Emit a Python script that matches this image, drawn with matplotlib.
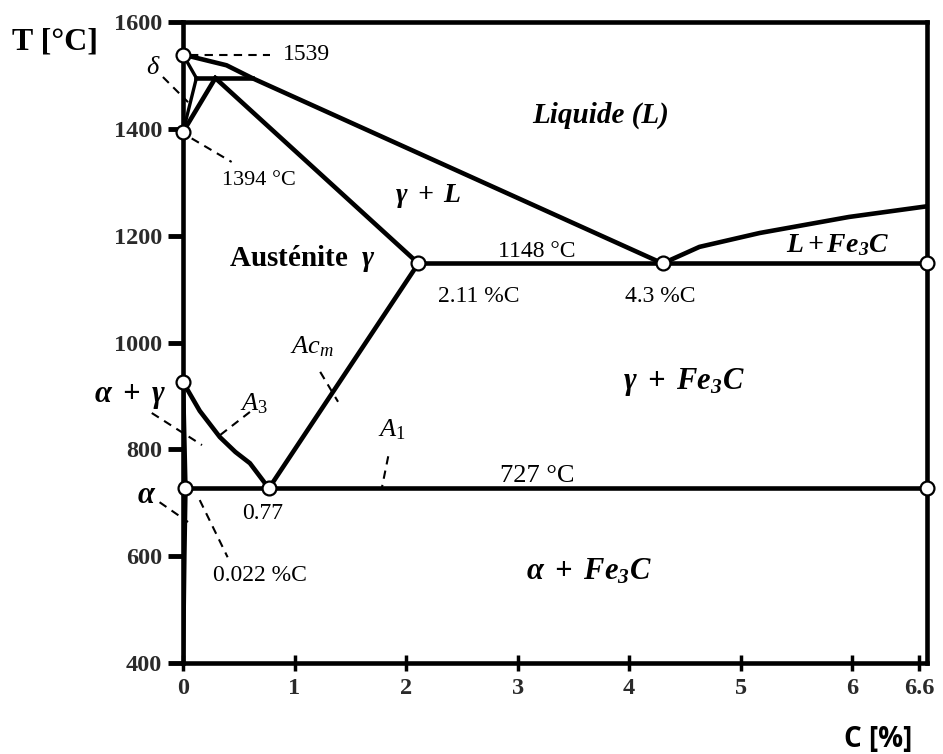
import matplotlib
matplotlib.use("Agg")
import matplotlib.pyplot as plt

plt.rcParams['font.family'] = ['Liberation Serif', 'DejaVu Serif']
plt.rcParams['mathtext.fontset'] = 'custom'
plt.rcParams['mathtext.rm'] = 'Liberation Serif'
plt.rcParams['mathtext.it'] = 'Liberation Serif:italic'
plt.rcParams['mathtext.bf'] = 'Liberation Serif:bold'
plt.rcParams['mathtext.bfit'] = 'Liberation Serif:italic:bold'

# points caractéristiques du diagramme Fe-Fe3C (C en %, T en °C)
melt_T = 1539      # A
N_T = 1394         # N
G_T = 926          # G
peri_T = 1495      # palier péritectique
H_x, J_x, B_x = 0.12, 0.29, 0.62
eut_T = 1148       # palier eutectique
E_x, C_x = 2.11, 4.3
eutd_T = 727       # palier eutectoïde
P_x, S_x = 0.022, 0.77
cem_x = 6.67

liq_x = [0, 0.39, B_x, C_x]
liq_T = [melt_T, 1519, peri_T, eut_T]
liq2_x = [C_x, 4.63, 5.17, 5.97, cem_x]
liq2_T = [eut_T, 1179, 1205, 1235, 1255]
a3_x = [0, 0.15, 0.33, 0.47, 0.60, S_x]
a3_T = [G_T, 872, 823, 795, 774, eutd_T]
solvus_x = [P_x, 0.012, 0]
solvus_T = [eutd_T, 600, 400]

x_ticks = [0, 1, 2, 3, 4, 5, 6, 6.6]
x_labels = ['0', '1', '2', '3', '4', '5', '6', '6.6']
y_ticks = [400, 600, 800, 1000, 1200, 1400, 1600]

fig = plt.figure(figsize=(9.43, 7.54), dpi=100)
ax = fig.add_axes([183 / 943, 91 / 754, 744 / 943, 641 / 754])

lw = 3.3
k = 'black'
ax.plot(liq_x, liq_T, color=k, lw=lw, solid_capstyle='round')
ax.plot(liq2_x, liq2_T, color=k, lw=lw, solid_capstyle='round')
ax.plot([0, H_x], [melt_T, peri_T], color=k, lw=2.4)
ax.plot([H_x, B_x], [peri_T, peri_T], color=k, lw=lw)
ax.plot([H_x, 0], [peri_T, N_T], color=k, lw=2.4)
ax.plot([J_x, 0], [peri_T, N_T], color=k, lw=lw)
ax.plot([J_x, E_x], [peri_T, eut_T], color=k, lw=lw)
ax.plot([E_x, cem_x], [eut_T, eut_T], color=k, lw=lw)
ax.plot(a3_x, a3_T, color=k, lw=lw, solid_joinstyle='round')
ax.plot([S_x, E_x], [eutd_T, eut_T], color=k, lw=lw)
ax.plot([0, P_x], [G_T, eutd_T], color=k, lw=lw)
ax.plot(solvus_x, solvus_T, color=k, lw=lw)
ax.plot([P_x, cem_x], [eutd_T, eutd_T], color=k, lw=lw)

# points remarquables
pts_x = [0, 0, 0, P_x, S_x, E_x, C_x, cem_x, cem_x]
pts_T = [melt_T, N_T, G_T, eutd_T, eutd_T, eut_T, eut_T, eut_T, eutd_T]
ax.plot(pts_x, pts_T, 'o', ms=10, mfc='white', mec=k, mew=1.6,
        clip_on=False, zorder=5)

# traits de rappel en pointillés
dash = dict(color=k, lw=1.5, ls=(0, (4, 3)), clip_on=False, zorder=4)
ax.plot([0.06, 0.78], [melt_T, melt_T], **dash)
ax.plot([0.078, 0.436], [1382, 1338], **dash)
ax.plot([-0.18, 0.045], [1497, 1450], **dash)
ax.plot([1.23, 1.39], [945, 889], **dash)
ax.plot([-0.28, 0.17], [868, 808], **dash)
ax.plot([0.60, 0.31], [870, 823], **dash)
ax.plot([1.84, 1.78], [787, 725], **dash)
ax.plot([-0.21, 0.045], [701, 664], **dash)
ax.plot([0.15, 0.40], [705, 598], **dash)

ax.set_xlim(0, 6.67)
ax.set_ylim(400, 1600)
ax.set_xticks(x_ticks)
ax.set_xticklabels(x_labels)
ax.set_yticks(y_ticks)
for s in ax.spines.values():
    s.set_linewidth(3.3)
ax.tick_params(axis='y', direction='out', length=11, width=3.5, pad=4,
               labelsize=17.5, labelcolor='#2a2a2a')
ax.tick_params(axis='x', direction='inout', length=11, width=2.5, pad=5,
               labelsize=17.5, labelcolor='#2a2a2a')
for lab in ax.get_xticklabels() + ax.get_yticklabels():
    lab.set_fontweight('bold')

# valeurs
txt = dict(fontsize=17, color=k, clip_on=False)
ax.text(0.895, melt_T, '1539', ha='left', va='center', **txt)
ax.text(0.35, 1304, '1394 °C', ha='left', va='center', fontsize=16)
ax.text(3.17, 1171, '1148 °C', ha='center', va='center', **txt)
ax.text(2.65, 1087, '2.11 %C', ha='center', va='center', **txt)
ax.text(4.28, 1087, '4.3 %C', ha='center', va='center', **txt)
ax.text(3.18, 750, '727 °C', ha='center', va='center', fontsize=19)
ax.text(0.71, 679, '0.77', ha='center', va='center', **txt)
ax.text(0.69, 564, '0.022 %C', ha='center', va='center', **txt)

# lignes de transformation
ax.text(-0.27, 1514, r'$\delta$', ha='center', va='center', fontsize=19,
        clip_on=False)
ax.text(1.16, 993, r'$Ac_m$', ha='center', va='center', fontsize=19)
ax.text(0.64, 885, r'$A_3$', ha='center', va='center', fontsize=19)
ax.text(1.87, 836, r'$A_1$', ha='center', va='center', fontsize=19)

# domaines
ax.text(3.74, 1426, 'Liquide (L)', ha='center', va='center', fontsize=21,
        fontweight='bold', fontstyle='italic')
ax.text(2.20, 1274, r'$\mathbfit{\gamma\ +\ L}$', ha='center', va='center',
        fontsize=20)
ax.text(1.07, 1158, r'Austénite  $\mathbfit{\gamma}$', ha='center',
        va='center', fontsize=21, fontweight='bold')
ax.text(5.87, 1182, r'$\mathbfit{L + Fe_3C}$', ha='center', va='center',
        fontsize=20)
ax.text(4.49, 926, r'$\mathbfit{\gamma\ +\ Fe_3C}$', ha='center',
        va='center', fontsize=22)
ax.text(3.64, 570, r'$\mathbfit{\alpha\ +\ Fe_3C}$', ha='center',
        va='center', fontsize=22)
ax.text(-0.47, 898, r'$\mathbfit{\alpha\ +\ \gamma}$', ha='center',
        va='center', fontsize=22, clip_on=False)
ax.text(-0.33, 714, r'$\mathbfit{\alpha}$', ha='center', va='center',
        fontsize=22, clip_on=False)

fig.text(55 / 943, 1 - 42 / 754, 'T [°C]', ha='center', va='center',
         fontsize=23, fontweight='bold')
fig.text(878 / 943, 1 - 739 / 754, 'C [%]', ha='center', va='center',
         fontsize=20, fontweight='bold', family='Open Sans')

fig.savefig('out.png', dpi=100)
